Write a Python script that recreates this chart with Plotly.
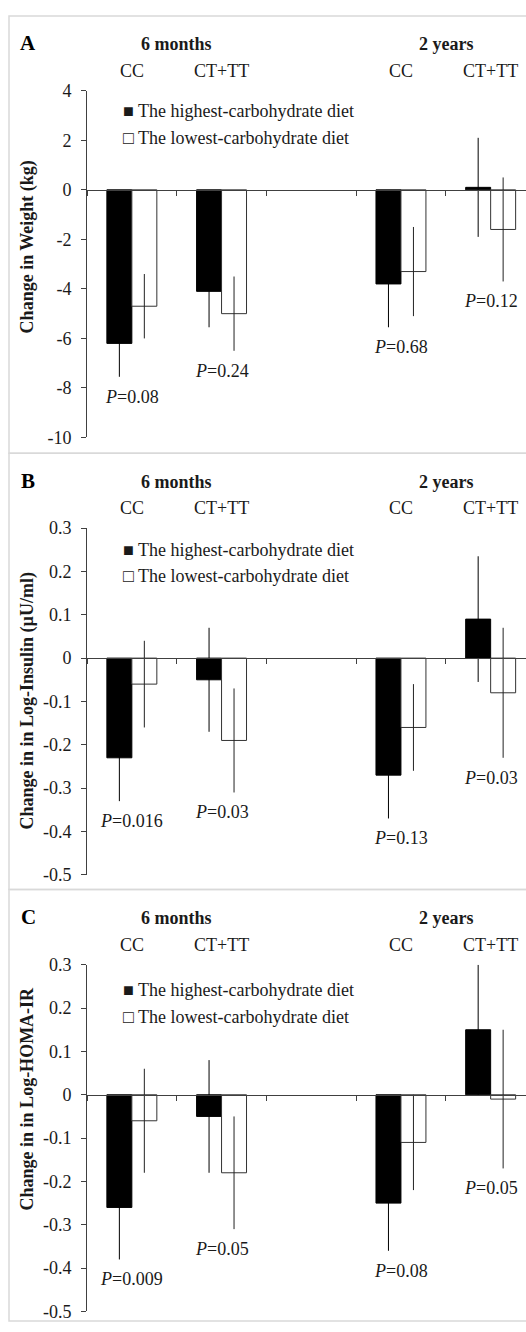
import plotly.graph_objects as go

W, H = 526, 1332

# ---------------- data ----------------
categories = ["CC 6m", "CT+TT 6m", "gap", "CC 2y", "CT+TT 2y"]
bar_categories = ["CC 6m", "CT+TT 6m", "CC 2y", "CT+TT 2y"]
category_labels = ["CC", "CT+TT", "CC", "CT+TT"]
period_labels = ["6 months", "2 years"]
series_names = ["The highest-carbohydrate diet", "The lowest-carbohydrate diet"]
panel_letters = ["A", "B", "C"]
y_titles = ["Change in Weight (kg)", "Change in in Log-Insulin (µU/ml)", "Change in in Log-HOMA-IR"]

weight_high = [-6.2, -4.1, -3.8, 0.1]
weight_high_err = [1.35, 1.45, 1.75, 2.0]
weight_low = [-4.7, -5.0, -3.3, -1.6]
weight_low_err = [1.3, 1.5, 1.8, 2.1]
weight_p = ["0.08", "0.24", "0.68", "0.12"]
weight_tickvals = [4, 2, 0, -2, -4, -6, -8, -10]
weight_ticktext = ["4", "2", "0", "-2", "-4", "-6", "-8", "-10"]

insulin_high = [-0.23, -0.05, -0.27, 0.09]
insulin_high_err = [0.10, 0.12, 0.10, 0.145]
insulin_low = [-0.06, -0.19, -0.16, -0.08]
insulin_low_err = [0.10, 0.12, 0.10, 0.15]
insulin_p = ["0.016", "0.03", "0.13", "0.03"]

homa_high = [-0.26, -0.05, -0.25, 0.15]
homa_high_err = [0.12, 0.13, 0.11, 0.15]
homa_low = [-0.06, -0.18, -0.11, -0.01]
homa_low_err = [0.12, 0.13, 0.11, 0.16]
homa_p = ["0.009", "0.05", "0.08", "0.05"]

log_tickvals = [0.3, 0.2, 0.1, 0, -0.1, -0.2, -0.3, -0.4, -0.5]
log_ticktext = ["0.3", "0.2", "0.1", "0", "-0.1", "-0.2", "-0.3", "-0.4", "-0.5"]

panels = [
    dict(high=weight_high, high_err=weight_high_err, low=weight_low, low_err=weight_low_err,
         p=weight_p, tickvals=weight_tickvals, ticktext=weight_ticktext, rng=[-10, 4]),
    dict(high=insulin_high, high_err=insulin_high_err, low=insulin_low, low_err=insulin_low_err,
         p=insulin_p, tickvals=log_tickvals, ticktext=log_ticktext, rng=[-0.5, 0.3]),
    dict(high=homa_high, high_err=homa_high_err, low=homa_low, low_err=homa_low_err,
         p=homa_p, tickvals=log_tickvals, ticktext=log_ticktext, rng=[-0.5, 0.3]),
]

# ---------------- layout geometry (pixels) ----------------
FONT = "Liberation Serif"
FS = 18
TXT = "#1a1a1a"
LINE = "#404040"
axis_top_px = [82, 526, 969.3]
axis_h_px = 352
box_top_px = [6, 450, 893]
box_bot_px = [450, 893, 1331]
title_center_px = [241, 702, 1105]
legend_off_px = [21, 22, 26]
x_left_px = 87
cat_w_px = 89.7


def py(px):
    return 1 - px / H


fig = go.Figure()
annotations = []
shapes = []
layout = {}

for i, pn in enumerate(panels):
    sfx = "" if i == 0 else str(i + 1)
    xa, ya = "x" + sfx, "y" + sfx
    top = axis_top_px[i]
    dom = [py(top + axis_h_px), py(top)]
    ymin, ymax = pn["rng"]
    zero_pos = dom[0] + (0 - ymin) / (ymax - ymin) * (dom[1] - dom[0])

    fig.add_trace(go.Bar(
        x=bar_categories, y=pn["high"], name=series_names[0], xaxis=xa, yaxis=ya,
        marker=dict(color="black", line=dict(color="black", width=1)),
        error_y=dict(type="data", array=pn["high_err"], color="black", thickness=1, width=0),
        showlegend=False))
    fig.add_trace(go.Bar(
        x=bar_categories, y=pn["low"], name=series_names[1], xaxis=xa, yaxis=ya,
        marker=dict(color="white", line=dict(color="#333", width=1)),
        error_y=dict(type="data", array=pn["low_err"], color="#222", thickness=1, width=0),
        showlegend=False))

    layout["xaxis" + sfx] = dict(
        type="category", categoryorder="array", categoryarray=categories,
        range=[-0.5, -0.5 + (W - x_left_px) / cat_w_px],
        domain=[x_left_px / W, 1], anchor="free", position=zero_pos,
        showticklabels=False, tickson="boundaries", ticks="outside", ticklen=5,
        tickcolor=LINE, showline=True, linecolor=LINE, linewidth=1, showgrid=False,
        zeroline=False, fixedrange=True)
    layout["yaxis" + sfx] = dict(
        domain=dom, range=[ymin, ymax], anchor=xa, tickmode="array",
        tickvals=pn["tickvals"], ticktext=pn["ticktext"], ticks="outside", ticklen=5,
        tickcolor=LINE, showline=True, linecolor=LINE, linewidth=1, showgrid=False,
        zeroline=False, ticklabelstandoff=6, fixedrange=True,
        tickfont=dict(family=FONT, size=FS, color=TXT))

    # panel box
    shapes.append(dict(type="rect", xref="paper", yref="paper", x0=9 / W, x1=1.05,
                       y0=py(box_bot_px[i]), y1=py(box_top_px[i]),
                       line=dict(color="#d9d9d9", width=1.5), layer="below"))
    # panel letter
    annotations.append(dict(text="<b>%s</b>" % panel_letters[i], xref="paper", yref="paper",
                            x=28 / W, y=py(top - 48), xanchor="center", yanchor="middle",
                            showarrow=False, font=dict(family=FONT, size=21, color="black")))
    # y title
    annotations.append(dict(text="<b>%s</b>" % y_titles[i], xref="paper", yref="paper",
                            x=27 / W, y=py(title_center_px[i]), xanchor="center",
                            yanchor="middle", textangle=-90, showarrow=False,
                            font=dict(family=FONT, size=FS, color=TXT)))
    # period headers
    for k, per in enumerate(period_labels):
        c0 = categories.index(bar_categories[2 * k])
        annotations.append(dict(text="<b>%s</b>" % per, xref=xa, yref="paper", x=c0 + 0.5,
                                y=py(top - 47), xanchor="center", yanchor="middle",
                                showarrow=False, font=dict(family=FONT, size=FS, color=TXT)))
    # genotype labels
    for cat, lab in zip(bar_categories, category_labels):
        annotations.append(dict(text=lab, xref=xa, yref="paper", x=cat, y=py(top - 20),
                                xanchor="center", yanchor="middle", showarrow=False,
                                font=dict(family=FONT, size=FS, color=TXT)))
    # legend (text items)
    for k, (sym, nm) in enumerate(zip(["■", "□"], series_names)):
        annotations.append(dict(text=sym + " " + nm, xref="paper", yref="paper",
                                x=121 / W, y=py(top + legend_off_px[i] + 27 * k),
                                xanchor="left", yanchor="middle", showarrow=False,
                                font=dict(family=FONT, size=FS, color=TXT)))
    # P values under the lowest error end
    for j, cat in enumerate(bar_categories):
        low_end = min(pn["high"][j] - pn["high_err"][j], pn["low"][j] - pn["low_err"][j])
        annotations.append(dict(text="<i>P</i>=" + pn["p"][j], xref=xa, yref=ya, x=cat,
                                y=low_end, yshift=-20, xanchor="center", yanchor="middle",
                                showarrow=False, font=dict(family=FONT, size=FS, color=TXT)))

fig.update_layout(
    width=W, height=H, margin=dict(l=0, r=0, t=0, b=0),
    paper_bgcolor="white", plot_bgcolor="white",
    barmode="group", bargap=0.443, bargroupgap=0,
    annotations=annotations, shapes=shapes, showlegend=False,
    font=dict(family=FONT, size=FS, color=TXT),
    **layout)

fig.write_html("out.html", config={"displayModeBar": False},
               post_script="document.body.style.margin='0';document.body.style.overflow='hidden';")
